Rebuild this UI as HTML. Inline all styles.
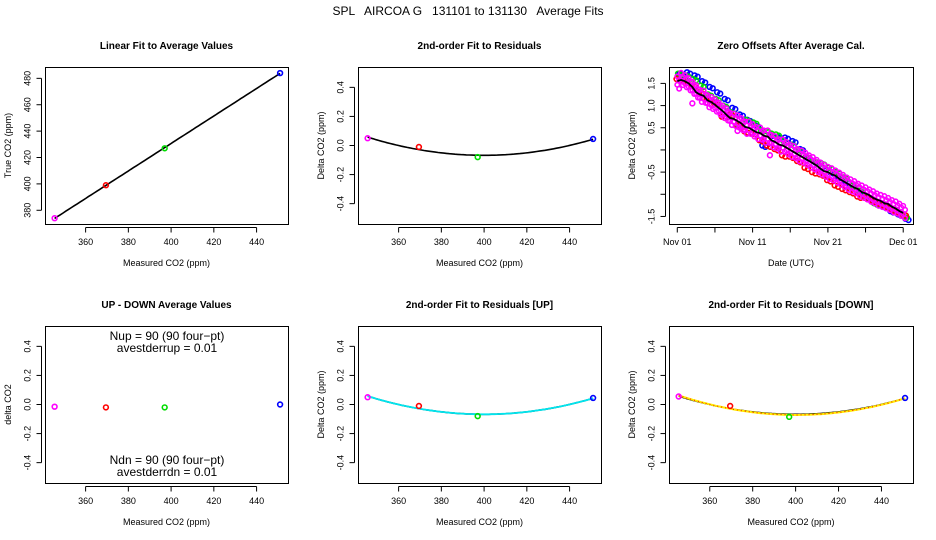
<!DOCTYPE html>
<html><head><meta charset="utf-8"><style>
html,body{margin:0;padding:0;background:#fff;}
svg{display:block;font-family:"Liberation Sans",sans-serif;}
</style></head><body>
<svg id="chart" width="936" height="540" viewBox="0 0 936 540" xmlns="http://www.w3.org/2000/svg">
<rect width="936" height="540" fill="#fff"/>
<text x="468" y="15" font-size="12" text-anchor="middle" xml:space="preserve">SPL   AIRCOA G   131101 to 131130   Average Fits</text>
</svg>
<script>
// ---- data ----
const calX = [345.5, 369.5, 397, 451];
const calTrue = [374, 399, 427, 484];
const calResid = [0.05, -0.01, -0.08, 0.045];
const calResidUp = [0.05, -0.01, -0.08, 0.045];
const calResidDn = [0.055, -0.01, -0.085, 0.045];
const upDown = [-0.015, -0.02, -0.02, 0.0];
const calColors = ["#ff00ff", "#ff0000", "#00dd00", "#0000ff"];
const xTicks = [360, 380, 400, 420, 440];
const residTicks = [-0.4, -0.2, 0.0, 0.2, 0.4];
const residTickLabels = ["-0.4", "-0.2", "0.0", "0.2", "0.4"];
const trueTicks = [380, 400, 420, 440, 460, 480];
const dayTicks = [0, 5, 10, 15, 20, 25, 30];
const dayTickLabels = ["Nov 01", "", "Nov 11", "", "Nov 21", "", "Dec 01"];
const zeroTicks = [-1.5, -1.0, -0.5, 0.0, 0.5, 1.0, 1.5];
const zeroTickLabels = ["-1.5", "", "-0.5", "", "0.5", "1.0", "1.5"];
const lineDayStep = 0.5;
const zeroLine = [1.55,1.58,1.55,1.5,1.42,1.3,1.25,1.22,1.12,1.08,1.02,0.95,0.88,0.8,0.72,0.7,0.65,0.6,0.52,0.5,0.45,0.4,0.38,0.32,0.3,0.22,0.18,0.12,0.1,0.05,0.0,-0.05,-0.1,-0.15,-0.2,-0.25,-0.3,-0.35,-0.42,-0.48,-0.5,-0.55,-0.58,-0.65,-0.7,-0.75,-0.8,-0.85,-0.88,-0.95,-0.98,-1.02,-1.08,-1.12,-1.15,-1.2,-1.22,-1.28,-1.32,-1.38,-1.42];
const zeroMagenta = [1.52,1.6,1.55,1.48,1.4,1.32,1.22,1.2,1.1,1.06,1.0,0.93,0.86,0.8,0.7,0.68,0.64,0.58,0.5,0.5,0.44,0.38,0.37,0.3,0.3,0.2,0.17,0.1,0.1,0.04,-0.02,-0.05,-0.12,-0.15,-0.2,-0.26,-0.3,-0.36,-0.42,-0.47,-0.52,-0.55,-0.6,-0.65,-0.7,-0.76,-0.8,-0.84,-0.9,-0.94,-0.98,-1.03,-1.07,-1.12,-1.15,-1.18,-1.22,-1.27,-1.3,-1.35,-1.4];
const zeroBlue = [1.72,1.75,1.68,1.55,1.42,1.3,1.15,0.95,0.8,0.68,0.56,0.1,0.35,0.3,0.28,0.2,0.02,-0.18,-0.28,-0.4,-0.5,-0.6,-0.72,-0.85,-0.95,-1.08,-1.2,-1.28,-1.38,-1.45,-1.55];
const zeroGreen = [1.72,1.68,1.6,1.45,1.25,1.15,1.0,0.85,0.55,0.68,0.62,0.45,0.4,0.35,0.2,0.12,0.0,-0.15,-0.25,-0.3,-0.4,-0.5,-0.62,-0.8,-0.92,-1.05,-1.2,-1.22,-1.3,-1.38,-1.5];
const zeroRed = [1.6,1.55,1.45,1.3,1.15,1.05,0.75,0.8,0.55,0.42,0.38,0.22,0.1,0.02,-0.12,-0.15,-0.25,-0.4,-0.5,-0.55,-0.68,-0.8,-0.88,-0.95,-1.05,-1.08,-1.15,-1.22,-1.3,-1.38,-1.45];
const magentaOutliers = [[2, 1.05], [8, 0.43], [12.3, -0.12]];

const NS = "http://www.w3.org/2000/svg";
const svg = document.getElementById("chart");
function mk(tag, attrs, parent) {
  const e = document.createElementNS(NS, tag);
  for (const k in attrs) e.setAttribute(k, attrs[k]);
  (parent || svg).appendChild(e);
  return e;
}
function txt(s, attrs, parent) { const t = mk("text", attrs, parent); t.textContent = s; return t; }

function panel(name, box, xd, yd, title, xlab, ylab) {
  const g = mk("g", {});
  
  
  const sx = v => box.x0 + (v - xd[0]) / (xd[1] - xd[0]) * (box.x1 - box.x0);
  const sy = v => box.y1 - (v - yd[0]) / (yd[1] - yd[0]) * (box.y1 - box.y0);
  const t = txt(title, {x: (box.x0 + box.x1) / 2, y: box.y0 - 18, "font-size": 10, "font-weight": "bold", "text-anchor": "middle"}, g);
  
  
  const xl = txt(xlab, {x: (box.x0 + box.x1) / 2, y: box.y1 + 42, "font-size": 9, "text-anchor": "middle"}, g);
  
  
  const cy = (box.y0 + box.y1) / 2, lx = box.x0 - 34;
  const yl = txt(ylab, {x: lx, y: cy, "font-size": 9, "text-anchor": "middle", transform: `rotate(-90 ${lx} ${cy})`}, g);
  
  
  const r = mk("rect", {x: box.x0 + 0.5, y: box.y0 + 0.5, width: box.x1 - box.x0, height: box.y1 - box.y0, fill: "none", stroke: "#000", "stroke-width": 1}, g);
  
  
  return {g, sx, sy, box};
}
function xAxis(p, ticks, labels) {
  const g = mk("g", {}, p.g);
  
  
  const ay = p.box.y1 + 3.5;
  mk("line", {x1: p.sx(ticks[0]), x2: p.sx(ticks[ticks.length - 1]), y1: ay, y2: ay, stroke: "#000"}, g);
  ticks.forEach((v, i) => {
    mk("line", {x1: p.sx(v), x2: p.sx(v), y1: ay, y2: ay + 5, stroke: "#000"}, g);
    if (labels[i]) txt(labels[i], {x: p.sx(v), y: p.box.y1 + 21, "font-size": 9, "text-anchor": "middle"}, g);
  });
}
function yAxis(p, ticks, labels) {
  const g = mk("g", {}, p.g);
  
  
  const ax = p.box.x0 - 3.5;
  mk("line", {x1: ax, x2: ax, y1: p.sy(ticks[0]), y2: p.sy(ticks[ticks.length - 1]), stroke: "#000"}, g);
  ticks.forEach((v, i) => {
    mk("line", {x1: ax - 5, x2: ax, y1: p.sy(v), y2: p.sy(v), stroke: "#000"}, g);
    const lx = ax - 11, ly = p.sy(v);
    if (labels[i]) txt(labels[i], {x: lx, y: ly, "font-size": 9, "text-anchor": "middle", transform: `rotate(-90 ${lx} ${ly})`}, g);
  });
}
function pt(p, x, y, col, name, r) {
  const c = mk("circle", {cx: p.sx(x), cy: p.sy(y), r: r || 2.4, fill: "none", stroke: col, "stroke-width": 1.6}, p.g);
  
  
}
function quadFit(xs, ys) {
  const m = xs.reduce((a, b) => a + b, 0) / xs.length;
  let S = [[0,0,0],[0,0,0],[0,0,0]], B = [0,0,0];
  xs.forEach((x0, i) => {
    const x = x0 - m, v = [1, x, x * x];
    for (let a = 0; a < 3; a++) { B[a] += v[a] * ys[i]; for (let b = 0; b < 3; b++) S[a][b] += v[a] * v[b]; }
  });
  const M = S.map((row, i) => row.concat([B[i]]));
  for (let i = 0; i < 3; i++) {
    let piv = i; for (let k = i + 1; k < 3; k++) if (Math.abs(M[k][i]) > Math.abs(M[piv][i])) piv = k;
    [M[i], M[piv]] = [M[piv], M[i]];
    for (let k = 0; k < 3; k++) if (k !== i) { const f = M[k][i] / M[i][i]; for (let j = i; j < 4; j++) M[k][j] -= f * M[i][j]; }
  }
  const c = [M[0][3] / M[0][0], M[1][3] / M[1][1], M[2][3] / M[2][2]];
  return x => { const d = x - m; return c[0] + c[1] * d + c[2] * d * d; };
}
function curve(p, f, x0, x1, attrs, name) {
  let d = "";
  for (let i = 0; i <= 80; i++) { const x = x0 + (x1 - x0) * i / 80; d += (i ? "L" : "M") + p.sx(x).toFixed(1) + " " + p.sy(f(x)).toFixed(1); }
  const path = mk("path", Object.assign({d, fill: "none"}, attrs), p.g);
  
  
}

const XD = [341, 454.7];
const RD = [-0.54, 0.54];
const topBox = (x0, x1) => ({x0, x1, y0: 67, y1: 224});
const botBox = (x0, x1) => ({x0, x1, y0: 326, y1: 483});

// Panel 1
const p1 = panel("linear-fit-panel", topBox(45, 288), XD, [369.6, 488.6], "Linear Fit to Average Values", "Measured CO2 (ppm)", "True CO2 (ppm)");
xAxis(p1, xTicks, xTicks.map(String));
yAxis(p1, trueTicks, trueTicks.map(String));
{
  const n = calX.length, mx = calX.reduce((a,b)=>a+b)/n, my = calTrue.reduce((a,b)=>a+b)/n;
  let sxy = 0, sxx = 0; calX.forEach((x,i)=>{ sxy += (x-mx)*(calTrue[i]-my); sxx += (x-mx)*(x-mx); });
  const b = sxy / sxx, a = my - b * mx;
  curve(p1, x => a + b * x, calX[0], calX[n-1], {stroke: "#000", "stroke-width": 1.6}, "linear-fit-line");
}
calX.forEach((x, i) => pt(p1, x, calTrue[i], calColors[i], "cal-point"));

// Panel 2
const p2 = panel("residual-fit-panel", topBox(358, 601), XD, RD, "2nd-order Fit to Residuals", "Measured CO2 (ppm)", "Delta CO2 (ppm)");
xAxis(p2, xTicks, xTicks.map(String));
yAxis(p2, residTicks, residTickLabels);
curve(p2, quadFit(calX, calResid), calX[0], calX[3], {stroke: "#000", "stroke-width": 1.6}, "residual-fit-curve");
calX.forEach((x, i) => pt(p2, x, calResid[i], calColors[i], "residual-point"));

// Panel 3
const p3 = panel("zero-offsets-panel", topBox(669, 913), [-1.1, 31.3], [-1.67, 1.87], "Zero Offsets After Average Cal.", "Date (UTC)", "Delta CO2 (ppm)");
xAxis(p3, dayTicks, dayTickLabels);
yAxis(p3, zeroTicks, zeroTickLabels);
zeroBlue.forEach((v, i) => { pt(p3, i + 0.3, v, "#0000ff", "zero-blue-point"); pt(p3, i + 0.7, v - 0.03, "#0000ff", "zero-blue-point"); });
zeroGreen.forEach((v, i) => { pt(p3, i + 0.1, v, "#00dd00", "zero-green-point"); pt(p3, i + 0.5, v - 0.03, "#00dd00", "zero-green-point"); });
zeroRed.forEach((v, i) => { pt(p3, i - 0.1, v, "#ff0000", "zero-red-point"); pt(p3, i + 0.35, v - 0.03, "#ff0000", "zero-red-point"); });
zeroMagenta.forEach((v, i) => {
  const d = i * lineDayStep;
  [0.14, 0.05, -0.05, -0.14].forEach((o, k) => {
    pt(p3, d + (k % 2) * 0.25, v + o, "#ff00ff", "zero-magenta-point", 2.2);
  });
});
magentaOutliers.forEach(o => pt(p3, o[0], o[1], "#ff00ff", "zero-magenta-outlier"));
{
  let d = "";
  zeroLine.forEach((v, i) => { d += (i ? "L" : "M") + p3.sx(i * lineDayStep).toFixed(1) + " " + p3.sy(v).toFixed(1); });
  const path = mk("path", {d, fill: "none", stroke: "#000", "stroke-width": 1.8}, p3.g);
  
  
}

// Panel 4
const p4 = panel("up-down-panel", botBox(45, 288), XD, RD, "UP - DOWN Average Values", "Measured CO2 (ppm)", "delta CO2");
xAxis(p4, xTicks, xTicks.map(String));
yAxis(p4, residTicks, residTickLabels);
calX.forEach((x, i) => pt(p4, x, upDown[i], calColors[i], "updown-point"));
[["Nup = 90 (90 four\u2212pt)", 340], ["avestderrup =  0.01", 352], ["Ndn = 90 (90 four\u2212pt)", 464], ["avestderrdn =  0.01", 476]].forEach(a => {
  const t = txt(a[0], {x: 167, y: a[1], "font-size": 12, "text-anchor": "middle"}, p4.g);
  
  
  t.setAttribute('xml:space', 'preserve');
});

// Panel 5
const p5 = panel("residual-up-panel", botBox(358, 601), XD, RD, "2nd-order Fit to Residuals [UP]", "Measured CO2 (ppm)", "Delta CO2 (ppm)");
xAxis(p5, xTicks, xTicks.map(String));
yAxis(p5, residTicks, residTickLabels);
curve(p5, quadFit(calX, calResid), calX[0], calX[3], {stroke: "#000", "stroke-width": 1.6}, "residual-fit-curve");
curve(p5, quadFit(calX, calResidUp), calX[0], calX[3], {stroke: "#00e5ee", "stroke-width": 1.8}, "residual-up-curve");
calX.forEach((x, i) => pt(p5, x, calResidUp[i], calColors[i], "residual-up-point"));

// Panel 6
const p6 = panel("residual-down-panel", botBox(669, 913), XD, RD, "2nd-order Fit to Residuals [DOWN]", "Measured CO2 (ppm)", "Delta CO2 (ppm)");
xAxis(p6, xTicks, xTicks.map(String));
yAxis(p6, residTicks, residTickLabels);
curve(p6, quadFit(calX, calResid), calX[0], calX[3], {stroke: "#000", "stroke-width": 1.6}, "residual-fit-curve");
curve(p6, quadFit(calX, calResidDn), calX[0], calX[3], {stroke: "#ffee00", "stroke-width": 2}, "residual-down-curve");
curve(p6, quadFit(calX, calResidDn), calX[0], calX[3], {stroke: "#ff0000", "stroke-width": 1, "stroke-dasharray": "1 3"}, "residual-down-curve-dots");
calX.forEach((x, i) => pt(p6, x, calResidDn[i], calColors[i], "residual-down-point"));
</script>
</body></html>
